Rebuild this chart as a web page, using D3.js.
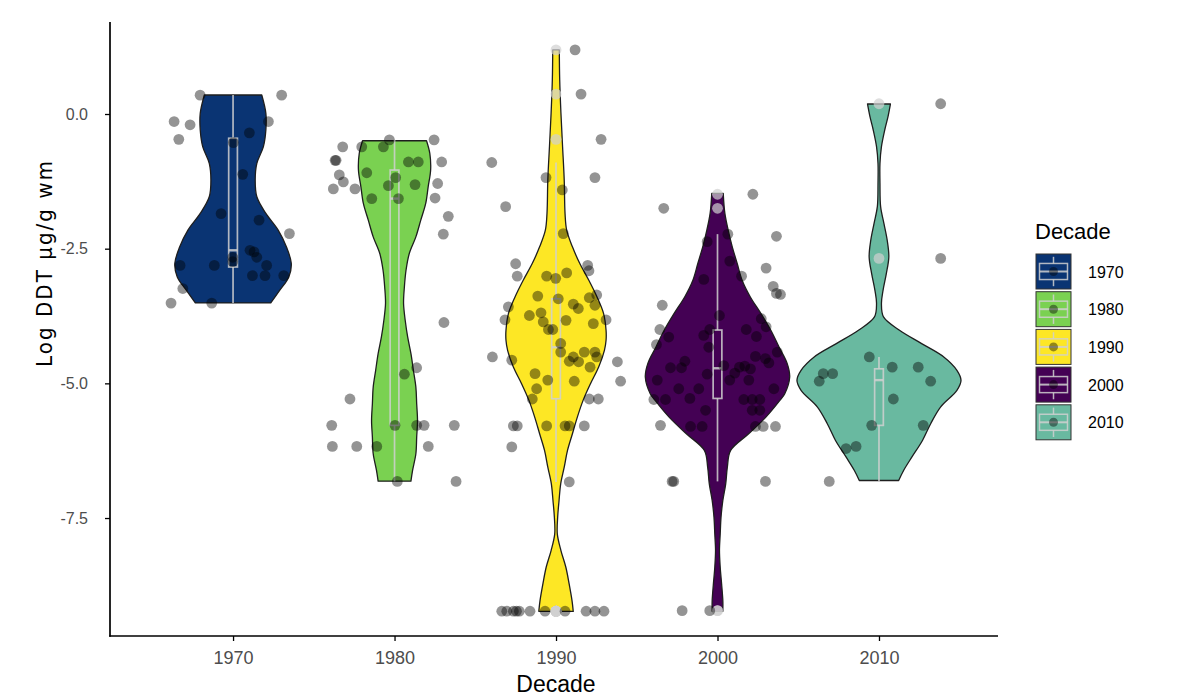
<!DOCTYPE html>
<html>
<head>
<meta charset="utf-8">
<script src="https://cdn.jsdelivr.net/npm/d3@7"></script>
<style>
  html, body { margin: 0; padding: 0; background: #ffffff; }
  svg { display: block; font-family: "Liberation Sans", Arial, sans-serif; }
</style>
</head>
<body>
<svg id="chart" width="1198" height="700"></svg>
<script>
// ---------------- data ----------------
const decades = [1970, 1980, 1990, 2000, 2010];
const decadeLabels = ["1970", "1980", "1990", "2000", "2010"];
const fills = ["#0a3473", "#7ad151", "#fde725", "#440154", "#69b9a0"];
const yTicks = [0, -2.5, -5, -7.5];
const xTicks = [1970, 1980, 1990, 2000, 2010];

// violin profiles: [value, relative density]
const violin1970 = [[0.353,0.35],[0.013,0.40],[-0.297,0.40],[-0.607,0.37],[-0.917,0.29],[-1.227,0.27],[-1.537,0.29],[-1.846,0.40],[-2.156,0.55],[-2.466,0.65],[-2.776,0.71],[-3.024,0.68],[-3.271,0.57],[-3.507,0.46]];
const violin1980 = [[-0.496,0.39],[-0.731,0.43],[-1.041,0.44],[-1.351,0.41],[-1.660,0.38],[-1.970,0.32],[-2.281,0.26],[-2.589,0.18],[-2.900,0.14],[-3.210,0.12],[-3.519,0.11],[-3.829,0.13],[-4.139,0.16],[-4.448,0.20],[-4.758,0.23],[-5.069,0.26],[-5.377,0.27],[-5.688,0.28],[-5.998,0.27],[-6.307,0.26],[-6.617,0.22],[-6.816,0.20]];
const violin1990 = [[1.19,0.04],[0.632,0.045],[0.013,0.06],[-0.607,0.08],[-1.227,0.10],[-1.846,0.11],[-2.156,0.13],[-2.466,0.20],[-2.776,0.29],[-3.086,0.40],[-3.396,0.50],[-3.705,0.58],[-4.015,0.61],[-4.2,0.61],[-4.387,0.59],[-4.697,0.52],[-5.006,0.42],[-5.316,0.33],[-5.626,0.26],[-5.935,0.20],[-6.245,0.14],[-6.556,0.10],[-6.865,0.057],[-7.175,0.037],[-7.485,0.02],[-7.80,0.016],[-8.104,0.06],[-8.414,0.12],[-8.723,0.16],[-9.033,0.195],[-9.232,0.21]];
const violin2000 = [[-1.474,0.07],[-1.846,0.09],[-2.156,0.13],[-2.466,0.18],[-2.776,0.24],[-3.086,0.30],[-3.396,0.40],[-3.705,0.53],[-4.015,0.65],[-4.325,0.75],[-4.634,0.85],[-4.883,0.88],[-5.192,0.82],[-5.316,0.76],[-5.626,0.59],[-5.935,0.38],[-6.245,0.16],[-6.556,0.12],[-6.865,0.10],[-7.175,0.065],[-7.485,0.043],[-7.794,0.033],[-8.104,0.024],[-8.414,0.033],[-8.723,0.05],[-9.033,0.065],[-9.232,0.065]];
const violin2010 = [[0.186,0.14],[-0.05,0.11],[-0.297,0.07],[-0.607,0.03],[-0.917,0.012],[-1.289,0.012],[-1.72,0.02],[-2.03,0.06],[-2.342,0.10],[-2.652,0.12],[-2.96,0.09],[-3.271,0.05],[-3.519,0.03],[-3.767,0.055],[-4.015,0.25],[-4.262,0.52],[-4.51,0.79],[-4.758,0.95],[-4.944,1.0],[-5.13,0.95],[-5.44,0.75],[-5.749,0.63],[-6.06,0.53],[-6.37,0.40],[-6.617,0.30],[-6.803,0.24]];

// jittered observations: [x jitter in years, log DDT]
const pts1970 = [[-2.04,0.35],[3.01,0.35],[-3.65,-0.14],[-2.66,-0.20],[2.19,-0.14],[1.01,-0.35],[-3.36,-0.47],[0.02,-0.53],[0.60,-1.12],[-0.74,-1.85],[1.61,-1.97],[3.49,-2.22],[1.05,-2.53],[1.30,-2.56],[1.47,-2.66],[-0.02,-2.66],[-0.02,-2.74],[-3.28,-2.81],[-1.16,-2.81],[2.08,-2.81],[1.20,-3.00],[1.98,-3.00],[3.14,-3.00],[-3.11,-3.24],[-3.84,-3.51],[-1.32,-3.51]];
const pts1980 = [[-3.21,-0.61],[-2.03,-0.61],[-0.69,-0.61],[-0.32,-0.48],[2.45,-0.48],[-3.62,-0.86],[-3.68,-0.86],[0.86,-0.89],[1.47,-0.89],[2.92,-0.89],[-1.72,-1.09],[-3.42,-1.13],[-3.17,-1.26],[-3.79,-1.39],[-2.45,-1.39],[0.07,-1.18],[-0.38,-1.33],[1.27,-1.31],[2.67,-1.29],[-1.41,-1.57],[0.24,-1.57],[2.51,-1.56],[3.33,-1.90],[3.02,-2.23],[3.06,-3.87],[1.37,-4.71],[0.61,-4.83],[-2.76,-5.29],[-3.89,-5.78],[0.03,-5.78],[1.37,-5.78],[1.83,-5.78],[3.70,-5.78],[-3.85,-6.17],[-2.34,-6.17],[-1.10,-6.17],[2.09,-6.17],[0.17,-6.82],[3.81,-6.82]];
const pts1990 = [[1.18,1.19],[1.55,0.37],[2.79,-0.47],[-3.98,-0.90],[-0.62,-1.18],[2.41,-1.18],[0.39,-1.41],[-3.12,-1.72],[0.45,-2.22],[-2.50,-2.78],[-2.40,-3.01],[-0.58,-3.01],[-0.02,-3.05],[0.66,-2.95],[1.96,-2.81],[2.04,-2.91],[-1.13,-3.38],[0.14,-3.43],[2.06,-3.41],[2.52,-3.36],[-2.95,-3.58],[1.07,-3.53],[1.38,-3.61],[2.41,-3.55],[-0.93,-3.69],[-1.65,-3.74],[-3.16,-3.82],[-0.79,-3.86],[0.62,-3.83],[3.10,-3.82],[2.31,-3.89],[-0.47,-4.00],[-0.20,-4.00],[-3.94,-4.51],[-2.74,-4.57],[0.29,-4.26],[0.29,-4.42],[0.82,-4.59],[1.07,-4.51],[1.40,-4.60],[1.75,-4.42],[2.41,-4.42],[2.52,-4.51],[2.11,-4.70],[3.80,-4.60],[4.00,-4.96],[-1.30,-4.82],[-0.51,-4.94],[1.13,-4.96],[-1.20,-5.10],[-1.47,-5.29],[2.06,-5.29],[2.62,-5.29],[-2.64,-5.79],[-2.40,-5.79],[-0.58,-5.79],[0.56,-5.79],[0.82,-5.79],[1.75,-5.79],[-2.74,-6.18],[0.82,-6.83],[-3.36,-9.23],[-3.05,-9.23],[-2.64,-9.23],[-2.45,-9.23],[-2.27,-9.23],[-1.61,-9.23],[-0.68,-9.23],[0.56,-9.23],[1.86,-9.23],[2.41,-9.23],[2.97,-9.23]];
const pts2000 = [[2.19,-1.49],[-3.33,-1.75],[3.65,-2.27],[0.64,-2.23],[-0.64,-2.37],[0.76,-2.73],[3.01,-2.86],[1.49,-3.01],[-0.85,-3.07],[3.45,-3.20],[3.90,-3.35],[3.65,-3.33],[-3.42,-3.55],[0.12,-3.74],[2.71,-3.80],[3.01,-3.95],[-3.57,-4.00],[-3.02,-4.14],[-3.78,-4.28],[-0.85,-4.11],[-0.48,-4.00],[1.78,-4.00],[2.41,-4.13],[-0.54,-4.33],[-2.02,-4.59],[-2.91,-4.71],[-2.23,-4.71],[2.35,-4.50],[2.97,-4.54],[3.18,-4.62],[3.70,-4.42],[1.36,-4.70],[1.69,-4.68],[2.04,-4.73],[1.07,-4.81],[-0.64,-4.83],[1.94,-4.94],[0.76,-4.94],[-3.73,-4.94],[3.49,-5.10],[-2.40,-5.10],[-1.16,-5.10],[-3.94,-5.30],[-3.22,-5.30],[-1.71,-5.28],[1.63,-5.30],[2.15,-5.30],[2.62,-5.30],[2.15,-5.50],[2.62,-5.50],[-0.74,-5.50],[-3.53,-5.78],[-1.67,-5.80],[-0.95,-5.80],[2.35,-5.80],[2.83,-5.80],[3.59,-5.80],[0.39,-4.67],[-2.81,-6.82],[-2.71,-6.82],[2.97,-6.82],[-2.19,-9.22],[-0.48,-9.22]];
const pts2010 = [[3.82,0.19],[3.82,-2.68],[-0.60,-4.51],[-3.45,-4.82],[-2.87,-4.82],[-3.70,-4.96],[0.82,-4.70],[2.43,-4.70],[3.20,-4.96],[0.89,-5.29],[-0.45,-5.78],[2.74,-5.78],[-2.04,-6.21],[-1.42,-6.17],[-3.08,-6.82]];

// box plot statistics per decade
const boxLo  = [-3.51, -6.82, -6.83, -6.82, -6.82];
const boxQ1  = [-2.84, -5.78, -5.285, -5.28, -5.78];
const boxMed = [-2.53, -1.57, -4.33, -4.72, -4.94];
const boxQ3  = [-0.45, -1.04, -3.43, -4.01, -4.73];
const boxHi  = [0.353, -0.48, -0.90, -2.23, -4.51];

const violins = [violin1970, violin1980, violin1990, violin2000, violin2010];
const points = [pts1970, pts1980, pts1990, pts2000, pts2010];

// ---------------- layout ----------------
const svg = d3.select("#chart");
const panel = { left: 110, right: 998, top: 22, bottom: 636 };

const x = d3.scaleLinear().domain([1962.38, 2017.37]).range([panel.left, panel.right]);
const y = d3.scaleLinear().domain([-9.69, 1.708]).range([panel.bottom, panel.top]);
const halfWidthYears = d3.scaleLinear().domain([0, 1]).range([0, 5.08]);
const boxHalf = 0.27;   // years
const boxColor = "#d0d0d0";
const ptR = 5.4;

const gPlot = svg.append("g");

// violins
decades.forEach((dec, i) => {
  const area = d3.area()
    .curve(d3.curveCatmullRom.alpha(0.5))
    .y(d => y(d[0]))
    .x0(d => x(dec - halfWidthYears(d[1])))
    .x1(d => x(dec + halfWidthYears(d[1])));
  gPlot.append("path")
    .datum(violins[i])
    .attr("d", area)
    .attr("fill", fills[i])
    .attr("stroke", "#1e1e1e")
    .attr("stroke-width", 1.3)
    .attr("stroke-linejoin", "round");
});

// boxplots
decades.forEach((dec, i) => {
  const g = gPlot.append("g")
    .attr("stroke", boxColor)
    .attr("stroke-opacity", 0.85)
    .attr("stroke-width", 1.7)
    .attr("fill", "none");
  g.append("line").attr("x1", x(dec)).attr("x2", x(dec)).attr("y1", y(boxHi[i])).attr("y2", y(boxQ3[i]));
  g.append("line").attr("x1", x(dec)).attr("x2", x(dec)).attr("y1", y(boxQ1[i])).attr("y2", y(boxLo[i]));
  g.append("rect")
    .attr("x", x(dec - boxHalf)).attr("width", x(dec + boxHalf) - x(dec - boxHalf))
    .attr("y", y(boxQ3[i])).attr("height", y(boxQ1[i]) - y(boxQ3[i]));
  g.append("line")
    .attr("x1", x(dec - boxHalf)).attr("x2", x(dec + boxHalf))
    .attr("y1", y(boxMed[i])).attr("y2", y(boxMed[i]))
    .attr("stroke-width", 2.4);
  // outliers (beyond whiskers), drawn at the decade centre
  const outl = points[i].filter(p => p[1] > boxHi[i] + 0.02 || p[1] < boxLo[i] - 0.02);
  gPlot.selectAll(null).data(outl).enter().append("circle")
    .attr("cx", x(dec)).attr("cy", p => y(p[1])).attr("r", ptR)
    .attr("fill", boxColor).attr("fill-opacity", 0.7);
});

// jittered points
decades.forEach((dec, i) => {
  gPlot.selectAll(null).data(points[i]).enter().append("circle")
    .attr("cx", p => x(dec + p[0]))
    .attr("cy", p => y(p[1]))
    .attr("r", ptR)
    .attr("fill", "#000")
    .attr("fill-opacity", 0.42);
});

// axes
const yAxis = d3.axisLeft(y).tickValues(yTicks).tickFormat(d => d3.format(".1f")(d).replace("\u2212", "-")).tickSize(5).tickPadding(17);
const gy = svg.append("g").attr("transform", `translate(${panel.left},0)`).call(yAxis);
gy.select(".domain").remove();
gy.append("line").attr("x1", 0).attr("x2", 0).attr("y1", panel.top).attr("y2", panel.bottom + 0.8)
  .attr("stroke", "#000").attr("stroke-width", 1.7);
gy.selectAll(".tick line").attr("stroke", "#000").attr("stroke-width", 1.3);
gy.selectAll(".tick text").attr("fill", "#4d4d4d").style("font-size", "16px")
  .style("font-family", "'Liberation Sans', Arial, sans-serif");

const xAxis = d3.axisBottom(x).tickValues(xTicks).tickFormat(d3.format("d")).tickSize(5).tickPadding(10);
const gx = svg.append("g").attr("transform", `translate(0,${panel.bottom})`).call(xAxis);
gx.select(".domain").remove();
gx.append("line").attr("x1", panel.left - 0.8).attr("x2", panel.right).attr("y1", 0).attr("y2", 0)
  .attr("stroke", "#000").attr("stroke-width", 1.7);
gx.selectAll(".tick line").attr("stroke", "#000").attr("stroke-width", 1.3);
gx.selectAll(".tick text").attr("fill", "#4d4d4d").style("font-size", "18px")
  .style("font-family", "'Liberation Sans', Arial, sans-serif");

// axis titles
svg.append("text")
  .attr("x", (panel.left + panel.right) / 2 + 2)
  .attr("y", 692)
  .attr("text-anchor", "middle")
  .attr("fill", "#000")
  .style("font-size", "23px")
  .text("Decade");

svg.append("text")
  .attr("transform", "translate(52,264) rotate(-90)")
  .attr("text-anchor", "middle")
  .attr("fill", "#000")
  .attr("textLength", 206)
  .attr("lengthAdjust", "spacing")
  .style("font-size", "22px")
  .style("font-family", "'Liberation Sans Narrow', 'DejaVu Sans Condensed', 'DejaVu Sans', sans-serif")
  .style("font-stretch", "condensed")
  .text("Log DDT µg/g wm");

// legend
const legend = svg.append("g").attr("transform", "translate(1036,0)");
legend.append("text").attr("x", -1).attr("y", 239).attr("fill", "#000").style("font-size", "22px").text("Decade");
const keySize = 35, keyStep = 37.7, keyTop = 254;
decades.forEach((dec, i) => {
  const ky = keyTop + i * keyStep;
  const k = legend.append("g").attr("transform", `translate(0,${ky})`);
  k.append("rect").attr("x", 0).attr("y", 0).attr("width", keySize).attr("height", keySize)
    .attr("fill", fills[i]).attr("stroke", "#333").attr("stroke-width", 1);
  const kb = k.append("g").attr("stroke", boxColor).attr("stroke-opacity", 0.85).attr("stroke-width", 1.5).attr("fill", "none");
  kb.append("line").attr("x1", keySize / 2).attr("x2", keySize / 2).attr("y1", keySize * 0.08).attr("y2", keySize * 0.27);
  kb.append("line").attr("x1", keySize / 2).attr("x2", keySize / 2).attr("y1", keySize * 0.73).attr("y2", keySize * 0.92);
  kb.append("rect").attr("x", keySize * 0.1).attr("y", keySize * 0.27).attr("width", keySize * 0.8).attr("height", keySize * 0.46);
  kb.append("line").attr("x1", keySize * 0.1).attr("x2", keySize * 0.9).attr("y1", keySize / 2).attr("y2", keySize / 2).attr("stroke-width", 2);
  k.append("circle").attr("cx", keySize / 2).attr("cy", keySize / 2).attr("r", 4.5).attr("fill", "#000").attr("fill-opacity", 0.42);
  legend.append("text").attr("x", 52).attr("y", ky + keySize / 2 + 6)
    .attr("fill", "#000").style("font-size", "16px").text(decadeLabels[i]);
});
</script>
</body>
</html>
